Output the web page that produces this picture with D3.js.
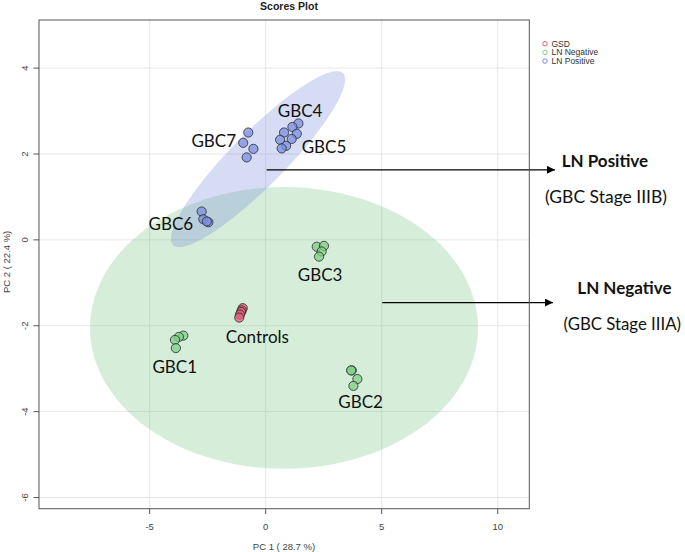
<!DOCTYPE html>
<html><head><meta charset="utf-8">
<script src="https://cdn.jsdelivr.net/npm/d3@7"></script>
<style>body{margin:0;background:#fff}svg{display:block}</style>
</head><body>
<svg id="c" width="685" height="552"></svg>
<script>
const xTicks = [-5, 0, 5, 10];
const yTicks = [4, 2, 0, -2, -4, -6];
const groups = ["GSD", "LN Negative", "LN Positive"];
const groupColors = ["#e0607a", "#7fcf85", "#7b8fe0"];

// [PC1, PC2]
const gsdPoints = [[-0.99,-1.59],[-1.03,-1.64],[-1.06,-1.68],[-1.11,-1.74],[-1.14,-1.81]];
const lnNegPoints = [
  [2.20,-0.16],[2.51,-0.14],[2.41,-0.27],[2.30,-0.39],
  [-3.55,-2.23],[-3.74,-2.26],[-3.91,-2.33],[-3.87,-2.52],
  [3.71,-3.04],[3.68,-3.04],[3.95,-3.24],[3.78,-3.40]
];
const lnPosPoints = [
  [1.41,2.71],[1.15,2.63],[0.79,2.50],[1.34,2.47],[0.62,2.33],[1.12,2.35],[0.88,2.19],[0.69,2.13],
  [-0.75,2.50],[-0.97,2.26],[-0.53,2.12],[-0.82,1.92],
  [-2.76,0.66],[-2.69,0.48],[-2.47,0.41],[-2.54,0.43]
];
// ellipses: center, axis vector 1, axis vector 2 (data units)
const ellNeg = {c:[0.79,-2.05], u:[8.36,0], v:[0,3.28]};
const ellPos = {c:[-0.33,1.88], u:[3.66,2.0], v:[0.83,-0.44]};

const clusterLabels = [
  ["GBC4",0.52,2.87],["GBC5",1.55,2.03],["GBC7",-3.2,2.16],["GBC6",-5.05,0.24],
  ["GBC3",1.38,-0.95],["Controls",-1.72,-2.4],["GBC1",-4.88,-3.1],["GBC2",3.13,-3.92]
];

const W=685,H=552;
const x = d3.scaleLinear().domain([-9.77, 11.36]).range([39, 529.3]);
const y = d3.scaleLinear().domain([-6.26, 5.12]).range([508.7, 20]);
const svg = d3.select("#c");
const fontR = "'Liberation Sans', Arial, sans-serif";

// grid
svg.append("g").selectAll("line").data(xTicks).join("line")
  .attr("x1",d=>x(d)).attr("x2",d=>x(d)).attr("y1",y.range()[1]).attr("y2",y.range()[0])
  .attr("stroke","#e6e6e6").attr("stroke-width",1);
svg.append("g").selectAll("line").data(yTicks).join("line")
  .attr("y1",d=>y(d)).attr("y2",d=>y(d)).attr("x1",x.range()[0]).attr("x2",x.range()[1])
  .attr("stroke","#e6e6e6").attr("stroke-width",1);

function ellPath(e){
  const pts=d3.range(0,361,3).map(t=>{const r=t*Math.PI/180;
    return [x(e.c[0]+e.u[0]*Math.cos(r)+e.v[0]*Math.sin(r)), y(e.c[1]+e.u[1]*Math.cos(r)+e.v[1]*Math.sin(r))];});
  return d3.line()(pts)+"Z";
}
svg.append("path").attr("d",ellPath(ellNeg)).attr("fill","rgb(120,200,130)").attr("fill-opacity",0.3);
svg.append("path").attr("d",ellPath(ellPos)).attr("fill","rgb(110,130,220)").attr("fill-opacity",0.28);

// arrows
svg.append("defs").append("marker").attr("id","ah").attr("viewBox","0 0 10 10").attr("refX",10).attr("refY",5)
  .attr("markerWidth",10).attr("markerHeight",8).attr("markerUnits","userSpaceOnUse").attr("orient","auto")
  .append("path").attr("d","M0,0L10,5L0,10Z").attr("fill","#000");
svg.append("line").attr("x1",x(0.04)).attr("y1",y(1.63)).attr("x2",555).attr("y2",y(1.63))
  .attr("stroke","#000").attr("stroke-width",1.2).attr("marker-end","url(#ah)");
svg.append("line").attr("x1",x(5.02)).attr("y1",y(-1.46)).attr("x2",553).attr("y2",y(-1.46))
  .attr("stroke","#000").attr("stroke-width",1.2).attr("marker-end","url(#ah)");

// points
function drawPts(data,col){
  svg.append("g").selectAll("circle").data(data).join("circle")
    .attr("cx",d=>x(d[0])).attr("cy",d=>y(d[1])).attr("r",4.6)
    .attr("fill",col).attr("fill-opacity",0.75).attr("stroke","#2a2a2a").attr("stroke-width",0.8);
}
drawPts(gsdPoints,groupColors[0]);
drawPts(lnNegPoints,groupColors[1]);
drawPts(lnPosPoints,groupColors[2]);

// box
svg.append("rect").attr("x",x.range()[0]).attr("y",y.range()[1]).attr("width",x.range()[1]-x.range()[0])
  .attr("height",y.range()[0]-y.range()[1]).attr("fill","none").attr("stroke","#555").attr("stroke-width",1);

// ticks
svg.append("g").selectAll("line").data(xTicks).join("line")
  .attr("x1",d=>x(d)).attr("x2",d=>x(d)).attr("y1",508.7).attr("y2",514).attr("stroke","#555");
svg.append("g").selectAll("text").data(xTicks).join("text")
  .attr("x",d=>x(d)).attr("y",530).attr("text-anchor","middle").attr("font-family",fontR).attr("font-size",9.5)
  .attr("fill","#444").text(d=>d);
svg.append("g").selectAll("line").data(yTicks).join("line")
  .attr("y1",d=>y(d)).attr("y2",d=>y(d)).attr("x1",33.5).attr("x2",39).attr("stroke","#555");
svg.append("g").selectAll("text").data(yTicks).join("text")
  .attr("transform",d=>`translate(28,${y(d)}) rotate(-90)`).attr("text-anchor","middle")
  .attr("font-family",fontR).attr("font-size",9.5).attr("fill","#444").text(d=>d);

svg.append("text").attr("x",284).attr("y",550).attr("text-anchor","middle").attr("font-family",fontR)
  .attr("font-size",9.5).attr("fill","#444").text("PC 1 ( 28.7 %)");
svg.append("text").attr("transform",`translate(10,${y(0)+22}) rotate(-90)`).attr("text-anchor","middle")
  .attr("font-family",fontR).attr("font-size",9.5).attr("fill","#444").text("PC 2 ( 22.4 %)");
svg.append("text").attr("x",289).attr("y",10).attr("text-anchor","middle").attr("font-family",fontR)
  .attr("font-size",10.5).attr("font-weight","bold").attr("fill","#222").text("Scores Plot");

// legend
const lg = svg.append("g");
groups.forEach((g,i)=>{
  lg.append("circle").attr("cx",545).attr("cy",43.7+i*8.7).attr("r",2.2).attr("fill","none")
    .attr("stroke",groupColors[i]).attr("stroke-width",1);
  lg.append("text").attr("x",551.5).attr("y",43.7+i*8.7+3).attr("font-family",fontR).attr("font-size",8.5)
    .attr("fill","#333").text(g);
});

// cluster labels
const fontL = "Lato, 'Open Sans', sans-serif";
svg.append("g").selectAll("text").data(clusterLabels).join("text")
  .attr("x",d=>x(d[1])).attr("y",d=>y(d[2])).attr("font-family",fontL).attr("font-size",17)
  .attr("fill","#111").text(d=>d[0]);

// side annotations
const ann = [["LN Positive",true,561.7,166.7,17],["(GBC Stage IIIB)",false,545,203.3,17.5],
             ["LN Negative",true,577.3,294,17],["(GBC Stage IIIA)",false,563.5,330,16.8]];
svg.append("g").selectAll("text").data(ann).join("text")
  .attr("x",d=>d[2]).attr("y",d=>d[3]).attr("font-family",fontL).attr("font-size",d=>d[4])
  .attr("font-weight",d=>d[1]?"bold":"normal").attr("fill","#111").text(d=>d[0]);
</script>
</body></html>
